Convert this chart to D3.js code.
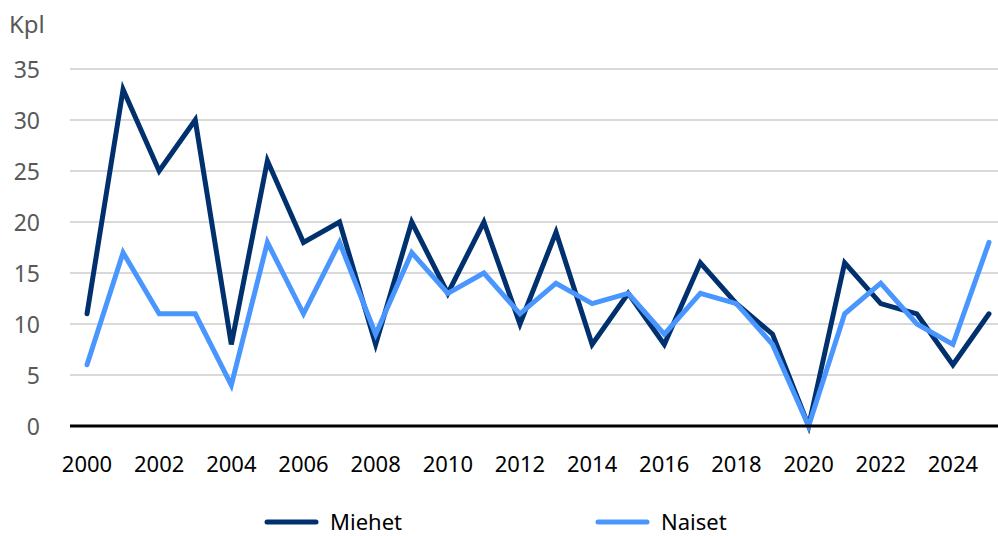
<!DOCTYPE html>
<html>
<head>
<meta charset="utf-8">
<script src="https://cdn.jsdelivr.net/npm/d3@7"></script>
<style>
  body { margin: 0; background: #fff; }
  text { font-family: "Noto Sans", sans-serif; }
</style>
</head>
<body>
<script>
// data
var years = d3.range(2000, 2026);
var miehet = [11, 33, 25, 30, 8, 26, 18, 20, 8, 20, 13, 20, 10, 19, 8, 13, 8, 16, 12, 9, 0, 16, 12, 11, 6, 11];
var naiset = [6, 17, 11, 11, 4, 18, 11, 18, 9, 17, 13, 15, 11, 14, 12, 13, 9, 13, 12, 8, 0, 11, 14, 10, 8, 18];
var yTicks = [0, 5, 10, 15, 20, 25, 30, 35];
var xTicks = [2000, 2002, 2004, 2006, 2008, 2010, 2012, 2014, 2016, 2018, 2020, 2022, 2024];

var series = [
    { name: "Miehet", values: miehet, color: "#00306e" },
    { name: "Naiset", values: naiset, color: "#4a96ff" }
];

var width = 998, height = 536;

var svg = d3.select("body").append("svg")
    .attr("width", width)
    .attr("height", height);

var x = d3.scalePoint()
    .domain(years)
    .range([87, 989]);

var y = d3.scaleLinear()
    .domain([0, 35])
    .range([426, 69]);

// gridlines
svg.selectAll("line.grid")
    .data(yTicks.filter(function(d) { return d > 0; }))
    .enter()
    .append("line")
    .attr("class", "grid")
    .attr("x1", 70)
    .attr("x2", width)
    .attr("y1", function(d) { return y(d); })
    .attr("y2", function(d) { return y(d); })
    .attr("stroke", "#d9d9d9")
    .attr("stroke-width", 2);

// y labels
svg.selectAll("text.ylab")
    .data(yTicks)
    .enter()
    .append("text")
    .attr("class", "ylab")
    .attr("x", 40)
    .attr("y", function(d) { return y(d) + 9; })
    .attr("text-anchor", "end")
    .attr("fill", "#595959")
    .style("font-size", "23px")
    .text(function(d) { return d; });

svg.append("text")
    .attr("x", 9)
    .attr("y", 33)
    .attr("fill", "#595959")
    .style("font-size", "24px")
    .text("Kpl");

// x labels
svg.selectAll("text.xlab")
    .data(xTicks)
    .enter()
    .append("text")
    .attr("class", "xlab")
    .attr("x", function(d) { return x(d); })
    .attr("y", 472)
    .attr("text-anchor", "middle")
    .attr("fill", "#000")
    .style("font-size", "22px")
    .text(function(d) { return d; });

var line = d3.line()
    .x(function(d, i) { return x(years[i]); })
    .y(function(d) { return y(d); });

svg.selectAll("path.series")
    .data(series)
    .enter()
    .append("path")
    .attr("class", "series")
    .attr("d", function(d) { return line(d.values); })
    .attr("fill", "none")
    .attr("stroke", function(d) { return d.color; })
    .attr("stroke-width", 5)
    .attr("stroke-linejoin", "miter")
    .attr("stroke-linecap", "round");

// zero axis
svg.append("line")
    .attr("x1", 70)
    .attr("x2", width)
    .attr("y1", y(0))
    .attr("y2", y(0))
    .attr("stroke", "#000")
    .attr("stroke-width", 3);

// legend
var legX = [267, 598];
var leg = svg.selectAll("g.legend")
    .data(series)
    .enter()
    .append("g")
    .attr("class", "legend")
    .attr("transform", function(d, i) { return "translate(" + legX[i] + ",522)"; });

leg.append("line")
    .attr("x1", 0)
    .attr("x2", 49)
    .attr("stroke", function(d) { return d.color; })
    .attr("stroke-width", 5)
    .attr("stroke-linecap", "round");

leg.append("text")
    .attr("x", 63)
    .attr("y", 8)
    .attr("fill", "#000")
    .style("font-size", "22px")
    .text(function(d) { return d.name; });
</script>
</body>
</html>
